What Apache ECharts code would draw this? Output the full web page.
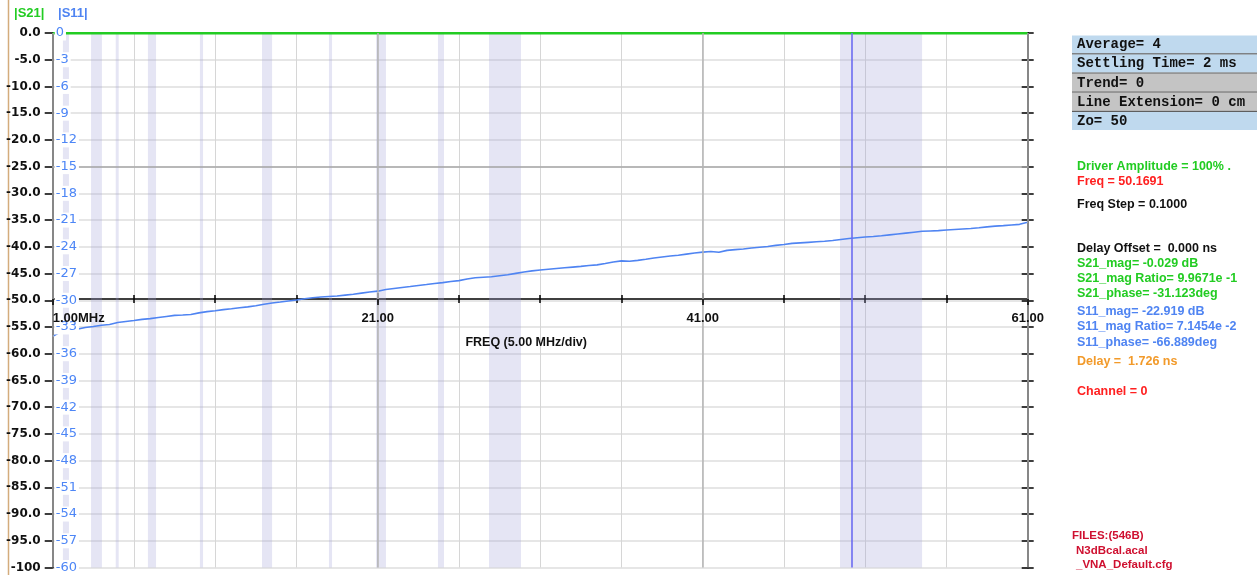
<!DOCTYPE html>
<html><head><meta charset="utf-8">
<script src="https://cdn.jsdelivr.net/npm/echarts@6/dist/echarts.min.js"></script>
<style>html,body{margin:0;padding:0;background:#fff;overflow:hidden}#c{width:1257px;height:575px}</style>
</head><body><div id="c"></div>
<script>
// ---------- data ----------
const freqMHz = [
  1,1.5,2,2.5,3,3.5,4,4.5,5,5.5,
  6,6.5,7,7.5,8,8.5,9,9.5,10,10.5,
  11,11.5,12,12.5,13,13.5,14,14.5,15,15.5,
  16,16.5,17,17.5,18,18.5,19,19.5,20,20.5,
  21,21.5,22,22.5,23,23.5,24,24.5,25,25.5,
  26,26.5,27,27.5,28,28.5,29,29.5,30,30.5,
  31,31.5,32,32.5,33,33.5,34,34.5,35,35.5,
  36,36.5,37,37.5,38,38.5,39,39.5,40,40.5,
  41,41.5,42,42.5,43,43.5,44,44.5,45,45.5,
  46,46.5,47,47.5,48,48.5,49,49.5,50,50.5,
  51,51.5,52,52.5,53,53.5,54,54.5,55,55.5,
  56,56.5,57,57.5,58,58.5,59,59.5,60,60.5,
  61
];
const s11MagDb = [
  -34.05,-33.55,-33.40,-33.25,-33.05,-32.95,-32.80,-32.72,-32.50,-32.38,
  -32.28,-32.15,-32.06,-31.94,-31.82,-31.70,-31.66,-31.60,-31.42,-31.28,
  -31.18,-31.05,-30.96,-30.84,-30.74,-30.62,-30.45,-30.30,-30.20,-30.08,
  -29.98,-29.84,-29.72,-29.64,-29.58,-29.52,-29.42,-29.32,-29.20,-29.08,
  -28.98,-28.80,-28.68,-28.56,-28.46,-28.34,-28.24,-28.12,-28.02,-27.90,
  -27.80,-27.62,-27.48,-27.42,-27.36,-27.25,-27.14,-26.98,-26.82,-26.70,
  -26.60,-26.52,-26.44,-26.36,-26.28,-26.20,-26.10,-26.03,-25.88,-25.70,
  -25.58,-25.62,-25.52,-25.40,-25.26,-25.15,-25.04,-24.94,-24.82,-24.70,
  -24.60,-24.52,-24.62,-24.40,-24.32,-24.24,-24.14,-24.05,-23.96,-23.84,
  -23.74,-23.62,-23.56,-23.50,-23.44,-23.38,-23.30,-23.18,-23.06,-22.98,
  -22.90,-22.84,-22.76,-22.66,-22.56,-22.46,-22.36,-22.26,-22.22,-22.18,
  -22.12,-22.06,-22.00,-21.94,-21.86,-21.76,-21.68,-21.62,-21.55,-21.48,
  -21.24
];
const s21FreqMHz = [1, 11, 21, 31, 41, 51, 61];
const s21MagDb = [-0.03, -0.03, -0.03, -0.03, -0.03, -0.03, -0.03];
const bandStartMHz = [1.63, 3.36, 4.88, 6.86, 10.06, 13.88, 18.00, 20.90, 24.71, 27.85, 49.45];
const bandEndMHz   = [2.00, 4.03, 5.06, 7.36, 10.25, 14.50, 18.19, 21.51, 25.08, 29.82, 54.50];
const markerMHz = 50.1691;
const freqStartMHz = 1;
const freqTickLabels = ['1.00MHz', '21.00', '41.00', '61.00'];
const refLevelDb = -25;
const settingsText = ['Average= 4', 'Settling Time= 2 ms', 'Trend= 0', 'Line Extension= 0 cm', 'Zo= 50'];
const infoText = [
  'Driver Amplitude = 100% .', 'Freq = 50.1691', 'Freq Step = 0.1000',
  'Delay Offset =  0.000 ns', 'S21_mag= -0.029 dB', 'S21_mag Ratio= 9.9671e -1', 'S21_phase= -31.123deg',
  'S11_mag= -22.919 dB', 'S11_mag Ratio= 7.1454e -2', 'S11_phase= -66.889deg',
  'Delay =  1.726 ns', 'Channel = 0'
];
const fileText = ['FILES:(546B)', 'N3dBcal.acal', '_VNA_Default.cfg'];

// ---------- styling / layout ----------
const GREEN = '#22cc22', BLUE = '#4f84f2', RED = '#ff2020', ORANGE = '#f29a2a', BLACK = '#111111';
const SANS = '"Liberation Sans", Arial, sans-serif';
const WIDE = '"DejaVu Sans", sans-serif';
const MONO = '"Liberation Mono", monospace';
const infoColors = [GREEN, RED, BLACK, BLACK, GREEN, GREEN, GREEN, BLUE, BLUE, BLUE, ORANGE, RED];
const infoY = [167, 182, 205, 249, 264, 279, 294, 312, 327, 343, 362, 392];
const boxColors = ['#bfd9ee', '#bfd9ee', '#c4c4c4', '#c4c4c4', '#bfd9ee'];

const chart = echarts.init(document.getElementById('c'), null, {width: 1257, height: 575});

const xBase = {type: 'value', min: 0, max: 60, position: 'bottom', offset: -268.5, gridIndex: 0};
const tickStyle = {color: '#000', width: 1.5};
const yBase = {type: 'value', min: -100, max: 0, interval: 5, gridIndex: 0};

const graphics = [];
graphics.push({type: 'line', shape: {x1: 8.5, y1: 0, x2: 8.5, y2: 575}, style: {stroke: '#d4ac7c', lineWidth: 1.5}, silent: true});
graphics.push({type: 'text', x: 14, y: 13, style: {text: '|S21|', fill: GREEN, font: 'bold 13px ' + SANS, verticalAlign: 'middle'}});
graphics.push({type: 'text', x: 58, y: 13, style: {text: '|S11|', fill: BLUE, font: 'bold 13px ' + SANS, verticalAlign: 'middle'}});
settingsText.forEach((t, i) => {
  const top = 35.5 + i * 19.1;
  graphics.push({type: 'rect', shape: {x: 1072, y: top, width: 185, height: 18}, style: {fill: boxColors[i]}, silent: true});
  if (i < settingsText.length - 1) {
    graphics.push({type: 'line', shape: {x1: 1072, y1: top + 18.5, x2: 1257, y2: top + 18.5}, style: {stroke: '#5e5e5e', lineWidth: 1.3}, silent: true});
  }
  graphics.push({type: 'text', x: 1077, y: top + 9.3, style: {text: t, fill: '#111', font: 'bold 14px ' + MONO, verticalAlign: 'middle'}});
});
infoText.forEach((t, i) => {
  graphics.push({type: 'text', x: 1077, y: infoY[i], style: {text: t, fill: infoColors[i], font: 'bold 12.5px ' + SANS, verticalAlign: 'middle'}});
});
fileText.forEach((t, i) => {
  graphics.push({type: 'text', x: i === 0 ? 1072 : 1076, y: 536 + i * 14.5, style: {text: t, fill: '#cf1030', font: 'bold 11.5px ' + SANS, verticalAlign: 'middle'}});
});

const option = {
  animation: false,
  backgroundColor: '#fff',
  grid: {left: 52.7, right: 229.3, top: 33, bottom: 5, containLabel: false},
  xAxis: [
    Object.assign({}, xBase, {interval: 5,
      axisLine: {show: true, onZero: false, lineStyle: {color: '#000', width: 1.5}},
      axisTick: {show: true, length: 4, lineStyle: tickStyle},
      axisLabel: {show: false},
      splitLine: {show: true, lineStyle: {color: '#d6d6d6', width: 1}}}),
    Object.assign({}, xBase, {interval: 5,
      axisLine: {show: false, onZero: false},
      axisTick: {show: true, inside: true, length: 4, lineStyle: tickStyle},
      axisLabel: {show: false}, splitLine: {show: false}}),
    Object.assign({}, xBase, {interval: 20, z: 8,
      axisLine: {show: false, onZero: false},
      axisTick: {show: true, length: 6, lineStyle: tickStyle},
      axisLabel: {show: true, margin: 13, color: BLACK, fontFamily: SANS, fontWeight: 'bold', fontSize: 13,
        alignMinLabel: 'left',
        formatter: v => freqTickLabels[Math.round(v / 20)]},
      splitLine: {show: true, lineStyle: {color: '#b4b4b4', width: 1.5}},
      name: 'FREQ (5.00 MHz/div)', nameLocation: 'middle', nameGap: 37,
      nameTextStyle: {color: BLACK, fontFamily: SANS, fontWeight: 'bold', fontSize: 12.5, padding: [0, 28, 0, 0]}}),
    Object.assign({}, xBase, {interval: 20,
      axisLine: {show: false, onZero: false},
      axisTick: {show: true, inside: true, length: 6, lineStyle: tickStyle},
      axisLabel: {show: false}, splitLine: {show: false}})
  ],
  yAxis: [
    Object.assign({}, yBase, {position: 'left',
      axisLine: {show: true, onZero: false, lineStyle: {color: '#000', width: 2}},
      axisTick: {show: true, length: 8, lineStyle: tickStyle},
      axisLabel: {show: true, margin: 12, color: BLACK, fontFamily: WIDE, fontWeight: 'bold', fontSize: 12,
        formatter: v => (v === -100 ? '-100' : v.toFixed(1))},
      splitLine: {show: true, lineStyle: {color: '#dedede', width: 1.5}}}),
    {type: 'value', min: -60, max: 0, interval: 3, position: 'left', gridIndex: 0, z: 6,
      axisLine: {show: false, onZero: false}, axisTick: {show: false},
      axisLabel: {show: true, inside: true, margin: 2, color: '#4d86f6', fontFamily: WIDE, fontSize: 13,
        backgroundColor: '#fff', padding: [1, 2, 1, 1]},
      splitLine: {show: false}},
    Object.assign({}, yBase, {position: 'right',
      axisLine: {show: true, onZero: false, lineStyle: {color: '#000', width: 2}},
      axisTick: {show: true, length: 6, lineStyle: tickStyle},
      axisLabel: {show: false}, splitLine: {show: false}}),
    Object.assign({}, yBase, {position: 'right',
      axisLine: {show: false, onZero: false},
      axisTick: {show: true, inside: true, length: 6, lineStyle: tickStyle},
      axisLabel: {show: false}, splitLine: {show: false}})
  ],
  series: [
    {name: 'bands', type: 'line', xAxisIndex: 0, yAxisIndex: 0, data: [], z: 1, silent: true,
      markArea: {silent: true, itemStyle: {color: 'rgba(160,160,215,0.27)'},
        data: bandStartMHz.map((s, i) => [{xAxis: s - freqStartMHz}, {xAxis: bandEndMHz[i] - freqStartMHz}])},
      markLine: {silent: true, symbol: 'none', label: {show: false},
        lineStyle: {color: '#a9a9a9', width: 1.5, type: 'solid'}, data: [{yAxis: refLevelDb}]}},
    {name: '|S21|', type: 'line', xAxisIndex: 0, yAxisIndex: 0, z: 3, symbol: 'none', silent: true,
      lineStyle: {color: GREEN, width: 2.5},
      data: s21FreqMHz.map((f, i) => [f - freqStartMHz, s21MagDb[i]])},
    {name: '|S11|', type: 'line', xAxisIndex: 0, yAxisIndex: 1, z: 4, symbol: 'none', silent: true,
      lineStyle: {color: BLUE, width: 1.6},
      data: freqMHz.map((f, i) => [f - freqStartMHz, s11MagDb[i]]),
      markLine: {silent: true, symbol: 'none', label: {show: false},
        lineStyle: {color: '#6c6cf0', width: 1.6, type: 'solid'}, data: [{xAxis: markerMHz - freqStartMHz}]}}
  ],
  graphic: graphics
};
chart.setOption(option);
</script></body></html>
